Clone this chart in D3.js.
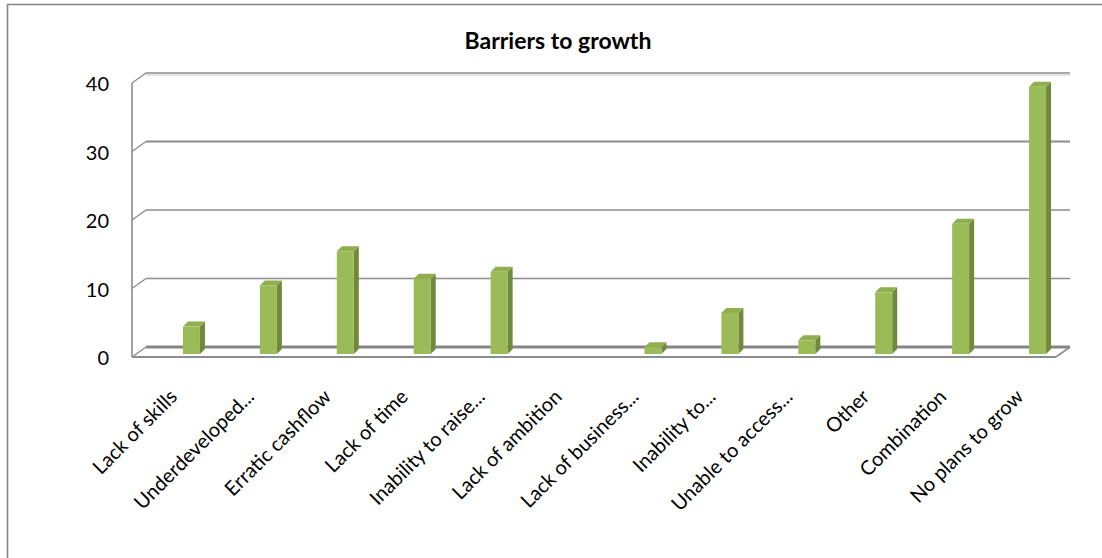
<!DOCTYPE html>
<html>
<head>
<meta charset="utf-8">
<script src="https://cdn.jsdelivr.net/npm/d3@7/dist/d3.min.js"></script>
<style>
  html, body { margin: 0; padding: 0; background: #fff; }
  svg { display: block; }
  text { font-family: Lato, "Open Sans", sans-serif; fill: #000; }
</style>
</head>
<body>
<svg id="chart" width="1102" height="558"></svg>
<script>
const title = "Barriers to growth";
const categories = [
  "Lack of skills", "Underdeveloped...", "Erratic cashflow", "Lack of time",
  "Inability to raise...", "Lack of ambition", "Lack of business...",
  "Inability to...", "Unable to access...", "Other", "Combination", "No plans to grow"
];
const values = [4, 10, 15, 11, 12, 0, 1, 6, 2, 9, 19, 39];
const yTicks = [0, 10, 20, 30, 40];

const svg = d3.select("#chart");
const W = 1102, H = 558;

// depth offset of the 3D wall/floor
const DX = 14, DY = -10;

// outer chart border
svg.append("rect")
  .attr("x", 7.5).attr("y", 4.5)
  .attr("width", W + 20).attr("height", H + 20)
  .attr("fill", "none").attr("stroke", "#878787").attr("stroke-width", 1.6);

// scales
const yBack = d3.scaleLinear().domain([0, 40]).range([347, 73]);
const yFront = d3.scaleLinear().domain([0, 40]).range([357, 83]);
const yBar = d3.scaleLinear().domain([0, 40]).range([354, 80]);
const xBar = d3.scaleBand().domain(categories).range([153, 1076]);

const backX0 = 146, backX1 = 1070;
const frontX0 = backX0 - DX, frontX1 = backX1 - DX;

const g = svg.append("g");

// back wall gridlines
yTicks.forEach(t => {
  const yb = yBack(t);
  const thick = (t === 0) ? 3 : (t === 30 ? 2 : 1.4);
  const col = (t === 0) ? "#858585" : "#8c8c8c";
  if (t === 40) {
    g.append("line").attr("x1", backX0).attr("x2", backX1)
      .attr("y1", yb + 2).attr("y2", yb + 2)
      .attr("stroke", "#e3e3e3").attr("stroke-width", 2);
  }
  g.append("line").attr("x1", backX0).attr("x2", backX1)
    .attr("y1", yb).attr("y2", yb)
    .attr("stroke", col).attr("stroke-width", thick);
  // side wall diagonal
  g.append("line").attr("x1", frontX0).attr("y1", yFront(t))
    .attr("x2", backX0).attr("y2", yb)
    .attr("stroke", "#8c8c8c").attr("stroke-width", 1.4);
});

// left wall front edge
g.append("line").attr("x1", frontX0).attr("x2", frontX0)
  .attr("y1", yFront(40)).attr("y2", yFront(0))
  .attr("stroke", "#8c8c8c").attr("stroke-width", 1.6);

// floor front edge and right edge
g.append("line").attr("x1", frontX0).attr("x2", frontX1)
  .attr("y1", yFront(0)).attr("y2", yFront(0))
  .attr("stroke", "#8c8c8c").attr("stroke-width", 2);
g.append("line").attr("x1", frontX1).attr("y1", yFront(0))
  .attr("x2", backX1).attr("y2", yBack(0))
  .attr("stroke", "#8c8c8c").attr("stroke-width", 1.6);

// bars (3D)
const BW = 17, BD = 5;
const bars = g.selectAll("g.bar").data(categories.map((c, i) => ({ c, v: values[i] })))
  .enter().append("g").attr("class", "bar");

bars.each(function(d) {
  if (d.v <= 0) return;
  const sel = d3.select(this);
  const x0 = xBar(d.c) + xBar.bandwidth() / 2 - BW / 2;
  const x1 = x0 + BW;
  const yt = yBar(d.v), yb = yBar(0);
  // side face
  sel.append("path")
    .attr("d", `M${x1},${yb} L${x1},${yt} L${x1 + BD},${yt - BD} L${x1 + BD},${yb - BD} Z`)
    .attr("fill", "#6e8a3a");
  // top face
  sel.append("path")
    .attr("d", `M${x0},${yt} L${x0 + BD},${yt - BD} L${x1 + BD},${yt - BD} L${x1},${yt} Z`)
    .attr("fill", "#8fae4e");
  // front face
  sel.append("rect")
    .attr("x", x0).attr("y", yt).attr("width", BW).attr("height", yb - yt)
    .attr("fill", "#9bbb59");
});

// y tick labels
g.selectAll("text.ytick").data(yTicks).enter().append("text")
  .attr("class", "ytick")
  .attr("x", 109).attr("y", d => yFront(d) + 3)
  .attr("text-anchor", "end").attr("dominant-baseline", "middle")
  .style("font-size", "20px")
  .text(d => d);

// category labels
g.selectAll("text.xlab").data(categories).enter().append("text")
  .attr("class", "xlab")
  .attr("text-anchor", "end")
  .attr("transform", d => `translate(${xBar(d) + xBar.bandwidth() / 2 - 13},398) rotate(-45)`)
  .style("font-size", "20px")
  .text(d => d);

// title
svg.append("text")
  .attr("x", 558).attr("y", 49)
  .attr("text-anchor", "middle")
  .style("font-size", "23px").style("font-weight", "bold")
  .text(title);
</script>
</body>
</html>
